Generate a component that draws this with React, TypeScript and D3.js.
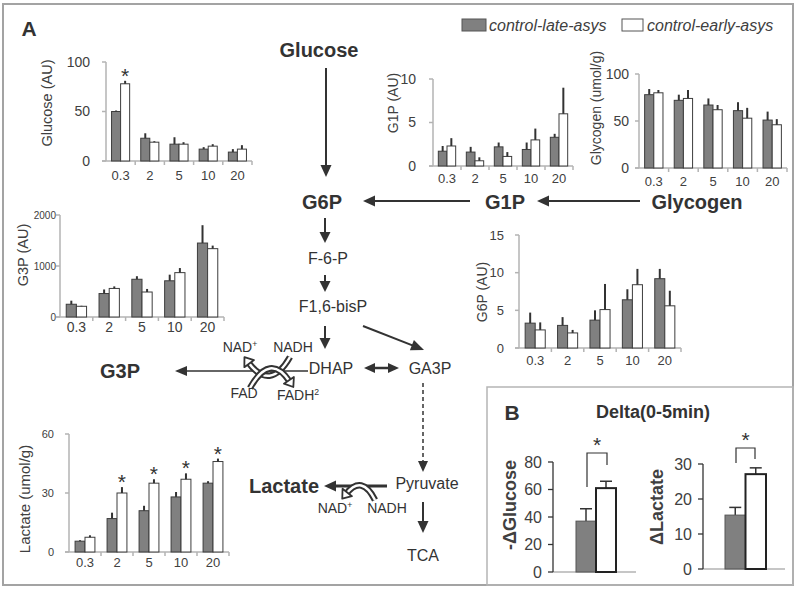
import React from "react";
import * as d3 from "d3";

// sampling times (min) shared by all small panels of A
const times = ["0.3", "2", "5", "10", "20"];

const glucoseLate = [50, 23, 17, 12, 9];
const glucoseLateErr = [1, 5, 7, 2, 3];
const glucoseEarly = [78, 19, 17, 15, 12];
const glucoseEarlyErr = [3, 1, 2, 2, 4];
const glucoseStars = [true, false, false, false, false];

const g1pLate = [1.7, 1.6, 2.2, 1.9, 3.3];
const g1pLateErr = [0.6, 0.6, 0.5, 0.8, 0.4];
const g1pEarly = [2.3, 0.6, 1.1, 3.0, 6.0];
const g1pEarlyErr = [0.9, 0.4, 0.5, 1.3, 3.0];

const glycogenLate = [78, 72, 67, 61, 51];
const glycogenLateErr = [6, 6, 7, 9, 9];
const glycogenEarly = [80, 74, 62, 53, 46];
const glycogenEarlyErr = [3, 9, 5, 11, 6];

const g3pLate = [250, 460, 740, 710, 1450];
const g3pLateErr = [70, 80, 60, 120, 350];
const g3pEarly = [210, 560, 490, 870, 1340];
const g3pEarlyErr = [10, 40, 60, 90, 60];

const g6pLate = [3.3, 3.0, 3.7, 6.4, 9.2];
const g6pLateErr = [1.4, 1.1, 1.3, 1.4, 1.3];
const g6pEarly = [2.4, 2.0, 5.1, 8.4, 5.6];
const g6pEarlyErr = [1.0, 0.4, 3.4, 2.1, 2.0];

const lactateLate = [5.5, 17, 21, 28, 35];
const lactateLateErr = [0.5, 3, 2.5, 2.5, 1];
const lactateEarly = [7.5, 30, 35, 37, 46];
const lactateEarlyErr = [1, 3, 2, 3, 1.5];
const lactateStars = [false, true, true, true, true];

// panel B, delta 0-5 min
const groups = ["control-late-asys", "control-early-asys"];
const deltaGlucose = [37, 61];
const deltaGlucoseErr = [9, 5];
const deltaLactate = [15.4, 27.1];
const deltaLactateErr = [2.2, 1.8];

const FONT = "'Liberation Sans', Arial, Helvetica, sans-serif";
const INK = "#333";
const GRAY = "#808080";
const AXIS = "#b3b3b3";

const panels = [
  { label: "Glucose (AU)", late: glucoseLate, lateErr: glucoseLateErr, early: glucoseEarly, earlyErr: glucoseEarlyErr, stars: glucoseStars,
    max: 100, ticks: [0, 50, 100], left: 106, right: 252, top: 62, bottom: 161, tickFont: 14, tickGap: 16, catFont: 13, catDy: 19, labelX: 47, labelY: 103, labelFont: 14.5 },
  { label: "G1P (AU)", late: g1pLate, lateErr: g1pLateErr, early: g1pEarly, earlyErr: g1pEarlyErr,
    max: 10, ticks: [0, 5, 10], left: 433, right: 573, top: 79, bottom: 166, tickFont: 14, tickGap: 17, catFont: 13, catDy: 17, labelX: 393, labelY: 103, labelFont: 14 },
  { label: "Glycogen (umol/g)", late: glycogenLate, lateErr: glycogenLateErr, early: glycogenEarly, earlyErr: glycogenEarlyErr,
    max: 100, ticks: [0, 50, 100], left: 639, right: 787, top: 74, bottom: 168, tickFont: 14, tickGap: 10, catFont: 13, catDy: 18, labelX: 596, labelY: 108, labelFont: 14 },
  { label: "G3P (AU)", late: g3pLate, lateErr: g3pLateErr, early: g3pEarly, earlyErr: g3pEarlyErr,
    max: 2000, ticks: [0, 1000, 2000], left: 60, right: 224, top: 215, bottom: 317, tickFont: 10, tickGap: 4, catFont: 14, catDy: 15, labelX: 23, labelY: 255, labelFont: 14.5 },
  { label: "G6P (AU)", late: g6pLate, lateErr: g6pLateErr, early: g6pEarly, earlyErr: g6pEarlyErr,
    max: 15, ticks: [0, 5, 10, 15], left: 519, right: 681, top: 235, bottom: 348, tickFont: 13, tickGap: 15, catFont: 13, catDy: 17, labelX: 482, labelY: 292, labelFont: 14 },
  { label: "Lactate (umol/g)", late: lactateLate, lateErr: lactateLateErr, early: lactateEarly, earlyErr: lactateEarlyErr, stars: lactateStars,
    max: 60, ticks: [0, 30, 60], left: 69, right: 229, top: 434, bottom: 552, tickFont: 11, tickGap: 15, catFont: 13, catDy: 15, labelX: 25, labelY: 499, labelFont: 15 },
];

function BarPanel({ p }: { p: any }) {
  const x = d3.scaleBand().domain(times).range([p.left, p.right]);
  const step = x.step();
  const pairW = step * 0.62;
  const sub = d3.scaleBand().domain(["late", "early"]).range([0, pairW]);
  const bw = sub.bandwidth();
  const y = d3.scaleLinear().domain([0, p.max]).range([p.bottom, p.top]);
  const series = [
    { key: "late", vals: p.late, errs: p.lateErr, fill: GRAY },
    { key: "early", vals: p.early, errs: p.earlyErr, fill: "#fff" },
  ];
  return (
    <g fontFamily={FONT} fill="#404040">
      <line x1={p.left} x2={p.left} y1={y(p.max)} y2={p.bottom} stroke={AXIS} strokeWidth={1.5} />
      {p.ticks.map((t: number) => (
        <g key={t}>
          <line x1={p.left - 4} x2={p.left} y1={y(t)} y2={y(t)} stroke={AXIS} strokeWidth={1.5} />
          <text x={p.left - p.tickGap} y={y(t)} dy="0.35em" textAnchor="end" fontSize={p.tickFont}>{t}</text>
        </g>
      ))}
      <line x1={p.left - 4} x2={p.right} y1={p.bottom} y2={p.bottom} stroke={AXIS} strokeWidth={1.5} />
      {times.map((t) => (
        <g key={t}>
          <line x1={x(t)! + step} x2={x(t)! + step} y1={p.bottom} y2={p.bottom + 4} stroke={AXIS} strokeWidth={1.5} />
          <text x={x(t)! + step / 2} y={p.bottom + p.catDy} textAnchor="middle" fontSize={p.catFont}>{t}</text>
        </g>
      ))}
      {series.map((s) =>
        times.map((t, i) => {
          const bx = x(t)! + (step - pairW) / 2 + sub(s.key)!;
          const v = s.vals[i];
          return (
            <g key={s.key + t}>
              <rect x={bx} y={y(v)} width={bw} height={p.bottom - y(v)} fill={s.fill} stroke="#3d3d3d" strokeWidth={1} />
              <line x1={bx + bw / 2} x2={bx + bw / 2} y1={y(v)} y2={y(v + s.errs[i])} stroke={INK} strokeWidth={2} />
            </g>
          );
        })
      )}
      {p.stars &&
        times.map((t, i) =>
          p.stars[i] ? (
            <text key={"s" + t} x={x(t)! + (step - pairW) / 2 + sub("early")! + bw / 2} y={y(p.early[i] + p.earlyErr[i]) + 2}
              textAnchor="middle" fontSize={21} fill={INK}>*</text>
          ) : null
        )}
      <text transform={`translate(${p.labelX},${p.labelY}) rotate(-90)`} textAnchor="middle" dy="0.35em" fontSize={p.labelFont}>{p.label}</text>
    </g>
  );
}

// bracket: [xLeft, xRight, yLeftEnd, yRightEnd, yTop]
function DeltaPanel({ vals, errs, max, ticks, axisX, top, bottom, barL, barR, baseR, label, labelX, labelY, bracket }: any) {
  const x = d3.scaleBand().domain(groups).range([barL, barR]);
  const y = d3.scaleLinear().domain([0, max]).range([bottom, top]);
  const bw = x.bandwidth();
  const cx = groups.map((g) => x(g)! + bw / 2);
  const tops = vals.map((v: number, i: number) => y(v + errs[i]));
  const [bl, br, byl, byr, byt] = bracket;
  return (
    <g fontFamily={FONT} fill="#404040">
      <line x1={axisX} x2={baseR} y1={bottom} y2={bottom} stroke={AXIS} strokeWidth={1.5} />
      <line x1={axisX} x2={axisX} y1={top} y2={bottom} stroke={INK} strokeWidth={1.3} />
      {ticks.map((t: number) => (
        <g key={t}>
          <line x1={axisX - 5} x2={axisX} y1={y(t)} y2={y(t)} stroke={INK} strokeWidth={1.3} />
          <text x={axisX - 11} y={y(t)} dy="0.35em" textAnchor="end" fontSize={16}>{t}</text>
        </g>
      ))}
      {groups.map((g, i) => (
        <g key={g}>
          <line x1={cx[i]} x2={cx[i]} y1={y(vals[i])} y2={tops[i]} stroke={INK} strokeWidth={1.5} />
          <line x1={cx[i] - 6} x2={cx[i] + 6} y1={tops[i]} y2={tops[i]} stroke={INK} strokeWidth={1.5} />
          <rect x={x(g)} y={y(vals[i])} width={bw} height={bottom - y(vals[i])} fill={i === 0 ? GRAY : "#fff"}
            stroke={i === 0 ? "#555" : "#222"} strokeWidth={i === 0 ? 1 : 2} />
        </g>
      ))}
      <path d={`M${bl},${byl}V${byt}H${br}V${byr}`} fill="none" stroke={INK} strokeWidth={1.2} />
      <text x={(bl + br) / 2} y={byt - 1} textAnchor="middle" fontSize={21} fill={INK}>*</text>
      <text transform={`translate(${labelX},${labelY}) rotate(-90)`} textAnchor="middle" dy="0.35em" fontSize={18} fontWeight="bold">{label}</text>
    </g>
  );
}

function Arrow({ x1, y1, x2, y2, w = 2, hl = 12, hw = 11, dash, both }: any) {
  const a = Math.atan2(y2 - y1, x2 - x1);
  const ux = Math.cos(a), uy = Math.sin(a);
  const nx = -uy, ny = ux;
  const head = (tx: number, ty: number, dx: number, dy: number) =>
    `${tx},${ty} ${tx - dx * hl + nx * hw / 2},${ty - dy * hl + ny * hw / 2} ${tx - dx * hl - nx * hw / 2},${ty - dy * hl - ny * hw / 2}`;
  const sx = both ? x1 + ux * hl * 0.8 : x1;
  const sy = both ? y1 + uy * hl * 0.8 : y1;
  return (
    <g fill={INK}>
      <line x1={sx} y1={sy} x2={x2 - ux * hl * 0.8} y2={y2 - uy * hl * 0.8} stroke={INK} strokeWidth={w} strokeDasharray={dash} />
      <polygon points={head(x2, y2, ux, uy)} />
      {both && <polygon points={head(x1, y1, -ux, -uy)} />}
    </g>
  );
}

function Cofactor({ s, c, e }: any) {
  const d = `M${s[0]},${s[1]} Q${c[0]},${c[1]} ${e[0]},${e[1]}`;
  const a = Math.atan2(e[1] - c[1], e[0] - c[0]);
  const ux = Math.cos(a), uy = Math.sin(a);
  const tip = [e[0] + ux * 6, e[1] + uy * 6];
  const hw = 6, hl = 8;
  const b = [tip[0] - ux * hl, tip[1] - uy * hl];
  const pts = `${tip[0]},${tip[1]} ${b[0] - uy * hw},${b[1] + ux * hw} ${b[0] + uy * hw},${b[1] - ux * hw}`;
  return (
    <g>
      <path d={d} fill="none" stroke={INK} strokeWidth={6.5} />
      <path d={d} fill="none" stroke="#fff" strokeWidth={2.5} />
      <polygon points={pts} fill="#fff" stroke={INK} strokeWidth={1.8} strokeLinejoin="round" />
    </g>
  );
}

function Sup({ base, sup, x, y, size = 14 }: any) {
  return (
    <text x={x} y={y} textAnchor="middle" fontSize={size}>
      {base}
      <tspan fontSize={size * 0.62} dy={-size * 0.38}>{sup}</tspan>
    </text>
  );
}

export default function App() {
  return (
    <div style={{ position: "absolute", left: 0, top: 0 }}>
      <svg width={799} height={589} style={{ display: "block", background: "#fff" }}>
        <rect x={3} y={4} width={790} height={581} fill="#fff" stroke="#a3a3a3" strokeWidth={2} />
        <rect x={487} y={387} width={306} height={198} fill="none" stroke="#b5b5b5" strokeWidth={1.5} />

        <text x={29} y={36} textAnchor="middle" fontFamily={FONT} fontWeight="bold" fontSize={21} fill={INK}>A</text>
        <text x={512} y={420} textAnchor="middle" fontFamily={FONT} fontWeight="bold" fontSize={21} fill={INK}>B</text>

        {/* legend */}
        <g fontFamily={FONT} fontStyle="italic" fontSize={16} fill="#404040">
          <rect x={462} y={19} width={24} height={12} fill={GRAY} stroke="#555" />
          <text x={489} y={31}>{groups[0]}</text>
          <rect x={622} y={19} width={21} height={12} fill="#fff" stroke="#555" />
          <text x={647} y={31}>{groups[1]}</text>
        </g>

        {panels.map((p) => <BarPanel key={p.label} p={p} />)}

        {/* pathway */}
        <g fontFamily={FONT} fill={INK}>
          <g fontWeight="bold" fontSize={20} textAnchor="middle">
            <text x={319} y={57}>Glucose</text>
            <text x={322} y={209}>G6P</text>
            <text x={505} y={209}>G1P</text>
            <text x={697} y={209}>Glycogen</text>
            <text x={120} y={378}>G3P</text>
            <text x={284} y={493}>Lactate</text>
          </g>
          <g fontSize={16} textAnchor="middle">
            <text x={328} y={264}>F-6-P</text>
            <text x={333} y={312}>F1,6-bisP</text>
            <text x={331} y={374}>DHAP</text>
            <text x={430} y={374}>GA3P</text>
            <text x={427} y={489}>Pyruvate</text>
            <text x={423} y={561}>TCA</text>
          </g>
          <Arrow x1={326} y1={68} x2={326} y2={177} />
          <Arrow x1={470} y1={201} x2={363} y2={201} />
          <Arrow x1={640} y1={201} x2={537} y2={201} />
          <Arrow x1={325} y1={218} x2={325} y2={243} hl={11} hw={11} />
          <Arrow x1={325} y1={275} x2={325} y2={292} hl={11} hw={11} />
          <Arrow x1={325} y1={326} x2={325} y2={349} hl={11} hw={11} />
          <Arrow x1={363} y1={326} x2={424} y2={350} hl={13} hw={11} />
          <Arrow x1={364} y1={368} x2={399} y2={368} w={2.5} hl={11} hw={10} both />
          <Arrow x1={308} y1={371} x2={175} y2={371} w={1.5} hl={12} hw={10} />
          <Arrow x1={423} y1={383} x2={423} y2={472} w={1.5} hl={11} hw={10} dash="4 3" />
          <Arrow x1={387} y1={486} x2={324} y2={486} w={3} hl={12} hw={11} />
          <Arrow x1={423} y1={502} x2={423} y2={533} hl={12} hw={11} />

          <Cofactor s={[290, 357]} c={[270, 392]} e={[248, 362]} />
          <Cofactor s={[250, 388]} c={[270, 352]} e={[290, 382]} />
          <Cofactor s={[375, 500]} c={[362, 474]} e={[346, 494]} />

          <Sup base="NAD" sup="+" x={240} y={352} />
          <text x={293} y={352} fontSize={14} textAnchor="middle">NADH</text>
          <text x={244} y={398} fontSize={14} textAnchor="middle">FAD</text>
          <Sup base="FADH" sup="2" x={298} y={400} />
          <Sup base="NAD" sup="+" x={335} y={513} />
          <text x={387} y={513} fontSize={14} textAnchor="middle">NADH</text>
        </g>

        {/* panel B */}
        <text x={653} y={418} textAnchor="middle" fontFamily={FONT} fontWeight="bold" fontSize={18} fill={INK}>Delta(0-5min)</text>
        <DeltaPanel vals={deltaGlucose} errs={deltaGlucoseErr} max={80} ticks={[0, 20, 40, 60, 80]} axisX={553} top={462} bottom={572}
          barL={576} barR={616} baseR={636} label="-ΔGlucose" labelX={510} labelY={505} bracket={[587, 607, 487, 465, 453]} />
        <DeltaPanel vals={deltaLactate} errs={deltaLactateErr} max={30} ticks={[0, 10, 20, 30]} axisX={703} top={464} bottom={569}
          barL={725} barR={766} baseR={785} label="ΔLactate" labelX={657} labelY={507} bracket={[736, 755, 463, 459, 448]} />
      </svg>
    </div>
  );
}
